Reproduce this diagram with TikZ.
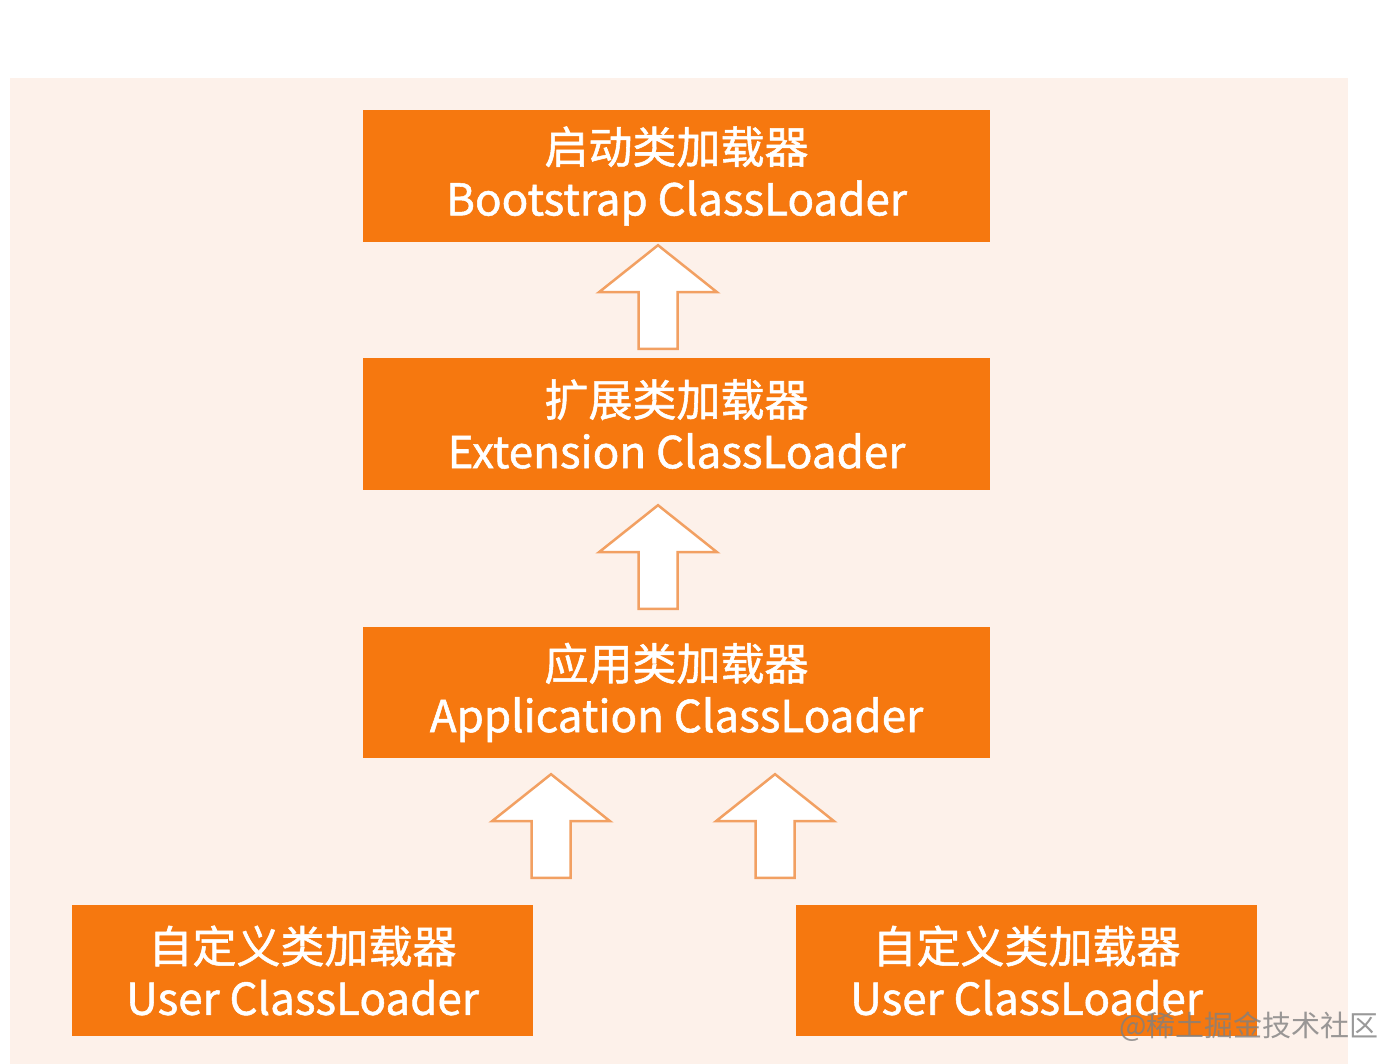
\documentclass[tikz,border=0pt]{standalone}
\usepackage{fontspec}
\setmainfont{Noto Sans CJK SC}[FakeBold=1.2]
\newfontfamily\marcafont{Noto Sans CJK SC}
\usetikzlibrary{calc}
\definecolor{arancio}{HTML}{F6780F}
\definecolor{pesca}{HTML}{FDF1EA}
\definecolor{bordo}{HTML}{F2A062}
\tikzset{
  caricatore/.style={fill=arancio, text=white, align=center, inner sep=0pt,
    minimum height=132pt, font=\fontsize{44}{52}\selectfont},
  freccia/.style={draw=bordo, line width=2.5pt, fill=white, line join=miter,
    to path={let \p1=(\tikztostart), \p2=(\tikztotarget) in
      (\x1-19.5pt,\y1) -- (\x1-19.5pt,\y2-47pt) -- (\x1-59pt,\y2-47pt) -- (\x1,\y2)
      -- (\x1+59pt,\y2-47pt) -- (\x1+19.5pt,\y2-47pt) -- (\x1+19.5pt,\y1) -- cycle}}
}
\begin{document}
\begin{tikzpicture}[x=1pt,y=-1pt]
  \useasboundingbox (0,0) rectangle (1400,1064);
  % sfondo
  \fill[pesca] (10,78) rectangle (1348,1064);

  % caricatori
  \node[caricatore, minimum width=627pt] (boot) at (676.5,176) {启动类加载器\\Bootstrap ClassLoader};
  \node[caricatore, minimum width=627pt] (ext) at (676.5,424) {扩展类加载器\\Extension ClassLoader};
  \node[caricatore, minimum width=627pt, minimum height=131pt] (app) at (676.5,692.5) {应用类加载器\\Application ClassLoader};
  \node[caricatore, minimum width=461pt, minimum height=131pt] (userL) at (302.5,970.5) {自定义类加载器\\User ClassLoader};
  \node[caricatore, minimum width=461pt, minimum height=131pt] (userR) at (1026.5,970.5) {自定义类加载器\\User ClassLoader};

  % frecce
  \draw[freccia] ([xshift=-18.5pt,yshift=9pt]ext.north) to ([yshift=-3pt]boot.south);
  \draw[freccia] ([xshift=-18.5pt,yshift=18pt]app.north) to ([yshift=-15pt]ext.south);
  \draw[freccia] ([xshift=248.5pt,yshift=27pt]userL.north) to ([yshift=-16pt]app.south);
  \draw[freccia] ([xshift=-251.5pt,yshift=27pt]userR.north) to ([yshift=-16pt]app.south);

  % filigrana
  \node[anchor=east, text=gray, opacity=0.8, font=\marcafont\fontsize{29}{29}\selectfont] (marca) at (1382,1027) {@稀土掘金技术社区};
\end{tikzpicture}
\end{document}
